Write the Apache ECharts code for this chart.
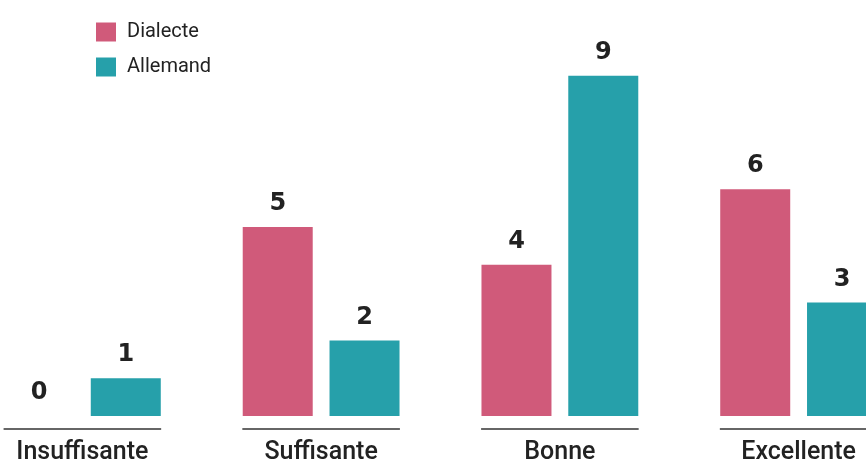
<!DOCTYPE html>
<html>
<head>
<meta charset="utf-8">
<script src="https://cdn.jsdelivr.net/npm/echarts@6/dist/echarts.min.js"></script>
<style>
html,body{margin:0;padding:0;background:#fff;}
#chart{width:866px;height:467px;}
</style>
</head>
<body>
<div id="chart"></div>
<script>
const categories = ['Insuffisante', 'Suffisante', 'Bonne', 'Excellente'];
const dialecte = [0, 5, 4, 6];
const allemand = [1, 2, 9, 3];
const seriesNames = ['Dialecte', 'Allemand'];

const chart = echarts.init(document.getElementById('chart'), null, {renderer: 'canvas'});
const labelStyle = {
  show: true, position: 'top', distance: 11,
  fontFamily: 'DejaVu Sans', fontWeight: 'bold', fontSize: 24, color: '#222'
};
chart.setOption({
  animation: false,
  backgroundColor: '#ffffff',
  legend: {
    data: seriesNames,
    orient: 'vertical',
    left: 91, top: 17,
    itemWidth: 20, itemHeight: 19, itemGap: 15,
    icon: 'rect',
    textStyle: {fontFamily: 'Roboto', fontSize: 20, color: '#222', padding: [0, 0, 0, 6]}
  },
  grid: {left: -37, right: -52, top: 38, bottom: 51, outerBoundsMode: 'none', containLabel: false},
  xAxis: {
    type: 'category',
    data: categories,
    axisLine: {show: false},
    axisTick: {show: false},
    axisLabel: {fontFamily: 'Roboto', fontWeight: 500, fontSize: 25, color: '#222', margin: 24}
  },
  yAxis: {type: 'value', min: 0, max: 10, show: false},
  series: [
    {
      name: seriesNames[0], type: 'bar', data: dialecte,
      barWidth: 70, barGap: '24%',
      itemStyle: {color: '#d05a7a'},
      label: labelStyle
    },
    {
      name: seriesNames[1], type: 'bar', data: allemand,
      barWidth: 70, barGap: '24%',
      itemStyle: {color: '#26a0aa'},
      label: labelStyle
    },
    {
      type: 'custom', silent: true, clip: false,
      data: categories.map((c, i) => [i, 0]),
      renderItem: function (params, api) {
        const p = api.coord([api.value(0), 0]);
        const half = api.size([1, 0])[0] * 0.33;
        return {
          type: 'line',
          shape: {x1: p[0] - half, y1: p[1] + 13, x2: p[0] + half, y2: p[1] + 13},
          style: {stroke: '#333', lineWidth: 1.6}
        };
      }
    }
  ]
});
</script>
</body>
</html>
